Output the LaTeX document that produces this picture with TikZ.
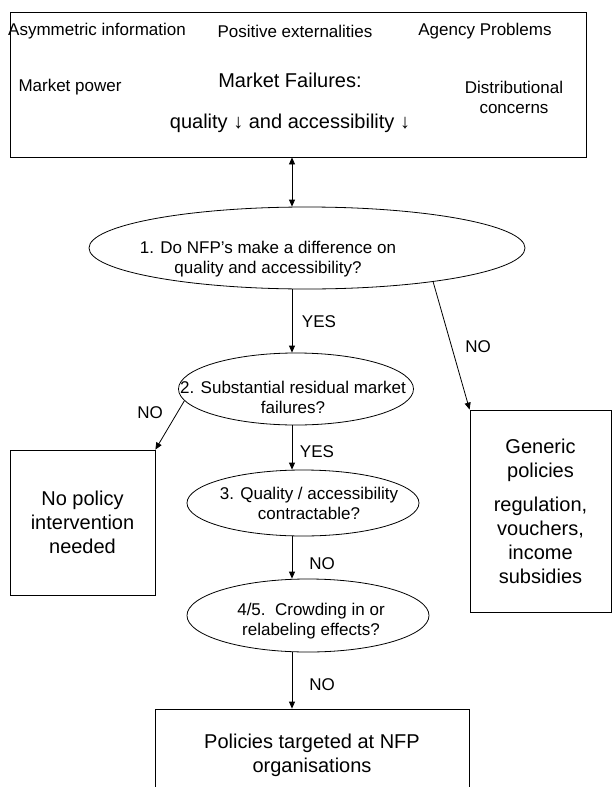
\documentclass[tikz,border=0pt]{standalone}
\usepackage{fontspec}
\setmainfont{Liberation Sans}
\usetikzlibrary{arrows.meta,shapes.geometric}
\newcommand{\smallfs}{\fontsize{17}{20}\selectfont}
\newcommand{\bigfs}{\fontsize{20}{24}\selectfont}

\begin{document}
\begin{tikzpicture}[
    x=1pt, y=-1pt,
    every node/.style={font=\smallfs, inner sep=0pt},
    box/.style={draw, line width=0.8pt, font=\bigfs, align=center},
    question/.style={draw, ellipse, line width=0.8pt, inner sep=0pt},
    qtext/.style={font=\smallfs, align=center},
    answer/.style={font=\smallfs},
    arrow/.style={-{Triangle[length=7pt,width=6pt]}, line width=0.8pt},
    dblarrow/.style={{Triangle[length=7pt,width=6pt]}-{Triangle[length=7pt,width=6pt]}, line width=0.8pt}
  ]
  \path[use as bounding box, clip] (0,0) rectangle (612,787);

  % market failures
  \node[box, minimum width=576pt, minimum height=145pt] (mfbox) at (298,84.5) {};
  \node (asym) at (97,31) {Asymmetric information};
  \node (posext) at (295,31) {Positive externalities};
  \node (agency) at (485,31) {Agency Problems};
  \node (mpower) at (70,87) {Market power};
  \node[font=\bigfs] (mfail) at (290,80) {Market Failures:};
  \node[font=\bigfs] (qualacc) at (290,123) {quality ↓ and accessibility ↓};
  \node[align=center] (distr) at (514,97) {Distributional\\concerns};

  % questions
  \node[question, minimum width=436pt, minimum height=82pt,
        label={[qtext, xshift=-39pt, yshift=-11pt]center:{1. Do NFP’s make a difference on\\quality and accessibility?}}] (q1) at (307,248) {};
  \node[question, minimum width=235pt, minimum height=72pt,
        label={[qtext, xshift=-3pt, yshift=-8pt]center:{2. Substantial residual market\\failures?}}] (q2) at (296,389) {};
  \node[question, minimum width=232pt, minimum height=66pt,
        label={[qtext, xshift=6pt]center:{3. Quality / accessibility\\contractable?}}] (q3) at (303,503) {};
  \node[question, minimum width=242pt, minimum height=73pt,
        label={[qtext, xshift=3pt, yshift=-6pt]center:{4/5.~~Crowding in or\\relabeling effects?}}] (q4) at (308,615.5) {};

  % outcomes
  \node[box, minimum width=145pt, minimum height=145pt] (nopol) at (82.5,522.5) {No policy\\intervention\\needed};
  \node[box, minimum width=141pt, minimum height=202pt] (generic) at (540.5,511) {Generic\\policies\\[10pt]regulation,\\vouchers,\\income\\subsidies};
  \node[box, minimum width=314pt, minimum height=92pt] (nfp) at (312,755) {Policies targeted at NFP\\organisations};

  % answers
  \node[answer] (yes1) at (319,322) {YES};
  \node[answer] (no1) at (478,347) {NO};
  \node[answer] (no2) at (150,413) {NO};
  \node[answer] (yes2) at (317,452) {YES};
  \node[answer] (no3) at (322,564) {NO};
  \node[answer] (no4) at (322,685) {NO};

  % --- arrows ---
  \coordinate (axis) at (292,0);
  \draw[dblarrow] (axis |- mfbox.south) -- (axis |- q1.north);
  \draw[arrow] (axis |- q1.south) -- (axis |- q2.north);
  \draw[arrow] (axis |- q2.south) -- (axis |- q3.north);
  \draw[arrow] (axis |- q3.south) -- (axis |- q4.north);
  \draw[arrow] (axis |- q4.south) -- (axis |- nfp.north);
  \draw[arrow] (q1.-15) -- (generic.north west);
  \draw[arrow] (q2.186) -- (nopol.north east);

\end{tikzpicture}
\end{document}
